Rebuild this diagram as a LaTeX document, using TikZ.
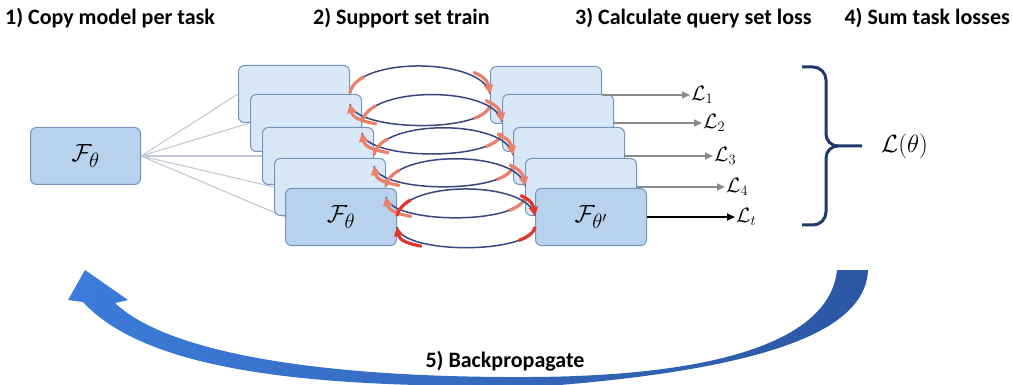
\documentclass[tikz,border=0pt]{standalone}
\usepackage[no-math]{fontspec}
\setmainfont{Carlito}
\usetikzlibrary{arrows.meta,backgrounds}
\definecolor{boxedge}{HTML}{7594BD}
\definecolor{backfill}{HTML}{D9E8F7}
\definecolor{frontfill}{HTML}{B8D2EE}
\definecolor{fanline}{HTML}{C2CAD6}
\definecolor{navyc}{HTML}{3A4680}
\definecolor{salmonc}{HTML}{EA7F6A}
\definecolor{redc}{HTML}{E2362A}
\definecolor{lossgray}{HTML}{8A8A8A}
\definecolor{bracec}{HTML}{1F3870}
\definecolor{bpleft}{HTML}{3C7CDA}
\definecolor{bpright}{HTML}{2B57A3}
\begin{document}
\begin{tikzpicture}[x=1pt,y=1pt,
  backbox/.style={draw=boxedge, fill=backfill, line width=1pt, rounded corners=6pt,
    minimum width=111pt, minimum height=57pt, inner sep=0pt, anchor=north west,
    font=\fontsize{28}{30}\selectfont},
  frontbox/.style={backbox, fill=frontfill},
  headtext/.style={font=\fontsize{22}{24}\selectfont\bfseries, inner sep=0pt, anchor=west},
  losslab/.style={font=\fontsize{20}{22}\selectfont, inner sep=1pt, anchor=west},
  lossarrow/.style={draw=lossgray, line width=1.6pt, -{Triangle[length=8pt,width=7pt]}},
  arcline/.style={draw=navyc, line width=1.5pt},
  uptip/.style={draw=#1, line width=3.2pt, dash pattern=on 22pt off 112pt on 80pt,
    -{Triangle[length=9pt,width=9pt]}},
  lowtip/.style={draw=#1, line width=3.2pt, dash pattern=on 22pt off 98pt on 80pt,
    -{Triangle[length=9pt,width=9pt]}},
  fan/.style={draw=fanline, line width=1.1pt}
]
\useasboundingbox (0,0) rectangle (1013,-385);

% headings
\node[headtext] (h1) at (5,-18) {1) Copy model per task};
\node[headtext] (h2) at (313,-18) {2) Support set train};
\node[headtext] (h3) at (575,-18) {3) Calculate query set loss};
\node[headtext, anchor=east] (h4) at (1010,-18) {4) Sum task losses};

% main model
\node[frontbox, minimum width=110pt] (M) at (30,-127) {$\mathcal{F}_\theta$};

% left stack
\node[backbox] (L1) at (238,-65) {};
\node[backbox] (L2) at (250,-94) {};
\node[backbox] (L3) at (262,-127) {};
\node[backbox] (L4) at (274,-158) {};
\node[frontbox] (L5) at (285,-188) {$\mathcal{F}_\theta$};

% right stack
\node[backbox] (R1) at (490,-66) {};
\node[backbox] (R2) at (502,-94) {};
\node[backbox] (R3) at (513,-127) {};
\node[backbox] (R4) at (525,-158) {};
\node[frontbox] (R5) at (535,-188) {$\mathcal{F}_{\theta'}$};

% fan lines behind
\begin{pgfonlayer}{background}
\foreach \i in {1,...,5} \draw[fan] (M.east) -- (L\i.west);
\end{pgfonlayer}

% circular arrows
\foreach \i/\c in {1/salmonc,2/salmonc,3/salmonc,4/salmonc,5/redc}{
  \draw[arcline] ([yshift=1pt]L\i.east) to[out=80,in=100,looseness=0.68] ([yshift=1pt]R\i.west);
  \draw[uptip=\c] ([yshift=1pt]L\i.east) to[out=80,in=100,looseness=0.68] ([yshift=1pt]R\i.west);
  \draw[arcline] ([yshift=-10pt]R\i.west) to[out=-100,in=-80,looseness=0.52] ([yshift=-10pt]L\i.east);
  \draw[lowtip=\c] ([yshift=-10pt]R\i.west) to[out=-100,in=-80,looseness=0.52] ([yshift=-10pt]L\i.east);
}

% losses
\path (R1.east) ++(88,0) node[losslab] (Q1) {$\mathcal{L}_1$};
\path (R2.east) ++(88,0) node[losslab] (Q2) {$\mathcal{L}_2$};
\path (R3.east) ++(88,0) node[losslab] (Q3) {$\mathcal{L}_3$};
\path (R4.east) ++(88,0) node[losslab] (Q4) {$\mathcal{L}_4$};
\path (R5.east) ++(88,0) node[losslab] (Qt) {$\mathcal{L}_t$};
\foreach \i in {1,...,4} \draw[lossarrow] (R\i.east) -- (Q\i.west);
\draw[lossarrow, draw=black, line width=1.8pt] (R5.east) -- (Qt.west);

% brace
\coordinate (bt) at (862,-146);
\draw[bracec, line width=3pt, line join=round]
  (802,-67) -- (813,-67) to[out=0,in=90] (826,-80) -- (826,-134)
  to[out=-90,in=180] (838,-146) -- (bt);
\draw[bracec, line width=3pt, line join=round]
  (838,-146) to[out=180,in=90] (826,-158) -- (826,-212)
  to[out=-90,in=0] (813,-225) -- (802,-225);
\node[font=\fontsize{27}{30}\selectfont, anchor=west, inner sep=2pt] (LT) at (879,-146) {$\mathcal{L}(\theta)$};

% backpropagate arrow
\shade[left color=bpleft, right color=bpright]
  (868,-270) .. controls (866,-320) and (800,-365) .. (560,-385)
  .. controls (330,-390) and (150,-375) .. (83,-302)
  -- (68,-300) -- (85,-270) -- (128,-300) -- (115,-303)
  .. controls (170,-355) and (330,-378) .. (530,-377)
  .. controls (720,-376) and (830,-340) .. (837,-270)
  -- cycle;
\node[headtext, anchor=center] (bp) at (505,-361) {5) Backpropagate};
\end{tikzpicture}
\end{document}
